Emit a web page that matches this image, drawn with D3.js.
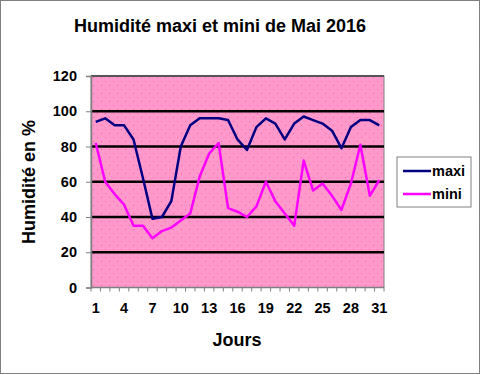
<!DOCTYPE html>
<html>
<head>
<meta charset="utf-8">
<script src="https://cdn.jsdelivr.net/npm/d3@7"></script>
<style>
  body { margin: 0; background: #fff; }
  svg { display: block; font-family: Arial, 'Liberation Sans', sans-serif; }
  .axis text { font-size: 14.5px; font-weight: bold; fill: #000; }
  .axis path, .axis line { stroke: #808080; }
</style>
</head>
<body>
<div id="chart"></div>
<script>
const days = d3.range(1, 32);
const maxi = [94, 96, 92, 92, 84, 62, 39, 40, 49, 80, 92, 96, 96, 96, 95, 84, 78, 91, 96, 93, 84, 93, 97, 95, 93, 89, 79, 91, 95, 95, 92];
const mini = [82, 60, 53, 47, 35, 35, 28, 32, 34, 38, 42, 63, 76, 82, 45, 43, 40, 46, 60, 49, 42, 35, 72, 55, 59, 52, 44, 59, 81, 52, 61];
const yTicks = [0, 20, 40, 60, 80, 100, 120];
const xLabels = [1, 4, 7, 10, 13, 16, 19, 22, 25, 28, 31];
const series = [
  { name: 'maxi', values: maxi, color: '#000080' },
  { name: 'mini', values: mini, color: '#ff00ff' }
];

const width = 481, height = 375;
const plot = { left: 91, top: 76, right: 384, bottom: 287.5 };

const svg = d3.select('#chart').append('svg')
  .attr('width', width)
  .attr('height', height);

// outer dotted frame
svg.append('rect')
  .attr('x', 0.5).attr('y', 0.5)
  .attr('width', width - 2).attr('height', height - 2)
  .attr('fill', '#fff')
  .attr('stroke', '#000')
  .attr('stroke-dasharray', '1,1');

// dotted pink background
const defs = svg.append('defs');
const pat = defs.append('pattern')
  .attr('id', 'dots')
  .attr('width', 8).attr('height', 8)
  .attr('patternUnits', 'userSpaceOnUse');
pat.append('rect').attr('width', 8).attr('height', 8).attr('fill', '#ff99cc');
pat.append('rect').attr('x', 1).attr('y', 1).attr('width', 1).attr('height', 1).attr('fill', '#ff6699');
pat.append('rect').attr('x', 5).attr('y', 5).attr('width', 1).attr('height', 1).attr('fill', '#ff6699');

const x = d3.scaleBand()
  .domain(days)
  .range([plot.left, plot.right]);

const y = d3.scaleLinear()
  .domain([0, 120])
  .range([plot.bottom, plot.top]);

svg.append('rect')
  .attr('x', plot.left).attr('y', plot.top)
  .attr('width', plot.right - plot.left)
  .attr('height', plot.bottom - plot.top)
  .attr('fill', 'url(#dots)')
  .attr('stroke', '#808080')
  .attr('stroke-width', 1);

// gridlines
svg.append('g')
  .selectAll('line')
  .data(yTicks.filter(d => d > 0 && d < 120))
  .join('line')
  .attr('x1', plot.left).attr('x2', plot.right)
  .attr('y1', d => y(d)).attr('y2', d => y(d))
  .attr('stroke', '#000')
  .attr('stroke-width', 2.5);

// top border darker
svg.append('line')
  .attr('x1', plot.left).attr('x2', plot.right)
  .attr('y1', plot.top).attr('y2', plot.top)
  .attr('stroke', '#555').attr('stroke-width', 2);

// Y axis
svg.append('g')
  .attr('class', 'axis')
  .attr('transform', `translate(${plot.left},0)`)
  .call(d3.axisLeft(y).tickValues(yTicks).tickSize(5).tickPadding(9))
  .call(g => g.select('.domain').attr('stroke-width', 1.5));

// X axis: minor ticks at category boundaries
const xAxis = svg.append('g')
  .attr('class', 'axis')
  .attr('transform', `translate(0,${plot.bottom})`);
xAxis.append('line')
  .attr('x1', plot.left).attr('x2', plot.right)
  .attr('stroke', '#808080').attr('stroke-width', 1.5);
xAxis.selectAll('line.tk')
  .data(days.concat([32]))
  .join('line')
  .attr('class', 'tk')
  .attr('x1', d => d <= 31 ? x(d) : plot.right)
  .attr('x2', d => d <= 31 ? x(d) : plot.right)
  .attr('y1', 0).attr('y2', 4)
  .attr('stroke', '#808080');
xAxis.selectAll('text')
  .data(xLabels)
  .join('text')
  .attr('x', d => x(d) + x.bandwidth() / 2)
  .attr('y', 25)
  .attr('text-anchor', 'middle')
  .text(d => d);

// lines
const line = d3.line()
  .x((d, i) => x(days[i]) + x.bandwidth() / 2)
  .y(d => y(d));

svg.append('g')
  .selectAll('path')
  .data(series)
  .join('path')
  .attr('fill', 'none')
  .attr('stroke', d => d.color)
  .attr('stroke-width', 2.5)
  .attr('stroke-linejoin', 'round')
  .attr('d', d => line(d.values));

// titles
svg.append('text')
  .attr('x', 220).attr('y', 32)
  .attr('text-anchor', 'middle')
  .attr('font-size', 18).attr('font-weight', 'bold')
  .text('Humidité maxi et mini de Mai 2016');

svg.append('text')
  .attr('x', 237).attr('y', 346)
  .attr('text-anchor', 'middle')
  .attr('font-size', 18).attr('font-weight', 'bold')
  .text('Jours');

svg.append('text')
  .attr('transform', 'translate(35,182) rotate(-90)')
  .attr('text-anchor', 'middle')
  .attr('font-size', 18).attr('font-weight', 'bold')
  .text('Humidité en %');

// legend
const legend = svg.append('g').attr('transform', 'translate(397,157)');
legend.append('rect')
  .attr('width', 74).attr('height', 50)
  .attr('fill', '#fff')
  .attr('stroke', '#808080');
const item = legend.selectAll('g.item')
  .data(series)
  .join('g')
  .attr('class', 'item')
  .attr('transform', (d, i) => `translate(6,${14 + i * 23})`);
item.append('line')
  .attr('x1', 0).attr('x2', 28)
  .attr('stroke', d => d.color)
  .attr('stroke-width', 2.5);
item.append('text')
  .attr('x', 29).attr('y', 5)
  .attr('font-size', 14.5).attr('font-weight', 'bold')
  .text(d => d.name);
</script>
</body>
</html>
